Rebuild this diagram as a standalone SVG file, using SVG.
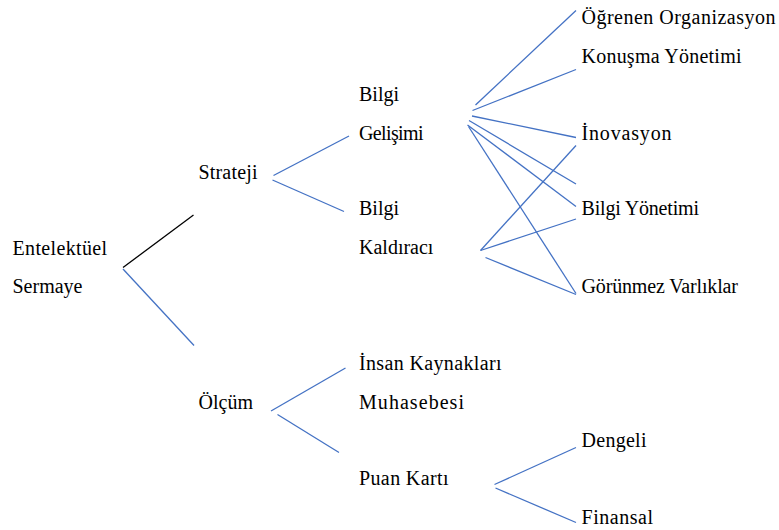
<svg xmlns="http://www.w3.org/2000/svg" width="779" height="530" viewBox="0 0 779 530">
  <style>
    .lbl { font-size: 20px; fill: #000; }
    .ln { stroke: #4472C4; stroke-width: 1.3; fill: none; }
    .ln-dark { stroke: #000; stroke-width: 1.3; fill: none; }
  </style>
  <rect width="779" height="530" fill="#fff"/>

  <g id="connectors">
    <!-- root -->
    <line class="ln-dark" x1="123" y1="267.5" x2="193.5" y2="215"/>
    <line class="ln" x1="123" y1="269" x2="194" y2="345.5"/>
    <!-- Strateji -->
    <line class="ln" x1="273.5" y1="175.5" x2="349" y2="136"/>
    <line class="ln" x1="272.5" y1="180" x2="344" y2="211.5"/>
    <!-- Bilgi Gelişimi -->
    <line class="ln" x1="475.5" y1="105" x2="576" y2="10.5"/>
    <line class="ln" x1="472.5" y1="110.5" x2="576" y2="69.5"/>
    <line class="ln" x1="472" y1="116" x2="576" y2="137.5"/>
    <line class="ln" x1="469" y1="120.5" x2="576" y2="184"/>
    <line class="ln" x1="467.5" y1="125" x2="576" y2="206.5"/>
    <line class="ln" x1="468.5" y1="126.5" x2="576" y2="293.5"/>
    <!-- Bilgi Kaldıracı -->
    <line class="ln" x1="480.5" y1="250.5" x2="576" y2="145.5"/>
    <line class="ln" x1="480.5" y1="250.5" x2="576" y2="219"/>
    <line class="ln" x1="485.5" y1="257.5" x2="576" y2="294.5"/>
    <!-- Ölçüm -->
    <line class="ln" x1="271" y1="411" x2="345.5" y2="368"/>
    <line class="ln" x1="277.5" y1="414.5" x2="339" y2="452.5"/>
    <!-- Puan Kartı -->
    <line class="ln" x1="494.5" y1="484.5" x2="576" y2="447.5"/>
    <line class="ln" x1="495.5" y1="488" x2="576" y2="522.5"/>
  </g>

  <g font-family="'Liberation Serif', 'Times New Roman', serif">
    <g id="entelektuel-sermaye">
      <text class="lbl" x="12.5" y="255" textLength="94.5" lengthAdjust="spacing">Entelektüel</text>
      <text class="lbl" x="12.5" y="292.5">Sermaye</text>
    </g>
    <g id="strateji">
      <text class="lbl" x="198.5" y="179" textLength="59" lengthAdjust="spacing">Strateji</text>
    </g>
    <g id="olcum">
      <text class="lbl" x="198.5" y="408.5">Ölçüm</text>
    </g>
    <g id="bilgi-gelisimi">
      <text class="lbl" x="359" y="100.5">Bilgi</text>
      <text class="lbl" x="359" y="139.5" textLength="64.5" lengthAdjust="spacing">Gelişimi</text>
    </g>
    <g id="bilgi-kaldiraci">
      <text class="lbl" x="359" y="215">Bilgi</text>
      <text class="lbl" x="359" y="253.5">Kaldıracı</text>
    </g>
    <g id="insan-kaynaklari">
      <text class="lbl" x="359" y="370" textLength="142.5" lengthAdjust="spacing">İnsan Kaynakları</text>
      <text class="lbl" x="359" y="408.5" textLength="105" lengthAdjust="spacing">Muhasebesi</text>
    </g>
    <g id="puan-karti">
      <text class="lbl" x="359" y="485" textLength="89.5" lengthAdjust="spacing">Puan Kartı</text>
    </g>
    <g id="ogrenen-organizasyon">
      <text class="lbl" x="581.5" y="23.5" textLength="194" lengthAdjust="spacing">Öğrenen Organizasyon</text>
    </g>
    <g id="konusma-yonetimi">
      <text class="lbl" x="581.5" y="62.5" textLength="160" lengthAdjust="spacing">Konuşma Yönetimi</text>
    </g>
    <g id="inovasyon">
      <text class="lbl" x="581.5" y="140" textLength="90" lengthAdjust="spacing">İnovasyon</text>
    </g>
    <g id="bilgi-yonetimi">
      <text class="lbl" x="581.5" y="215" textLength="117.5" lengthAdjust="spacing">Bilgi Yönetimi</text>
    </g>
    <g id="gorunmez-varliklar">
      <text class="lbl" x="581.5" y="292.5" textLength="156.5" lengthAdjust="spacing">Görünmez Varlıklar</text>
    </g>
    <g id="dengeli">
      <text class="lbl" x="581.5" y="446.5" textLength="65" lengthAdjust="spacing">Dengeli</text>
    </g>
    <g id="finansal">
      <text class="lbl" x="581.5" y="523.5" textLength="71.5" lengthAdjust="spacing">Finansal</text>
    </g>
  </g>
</svg>
